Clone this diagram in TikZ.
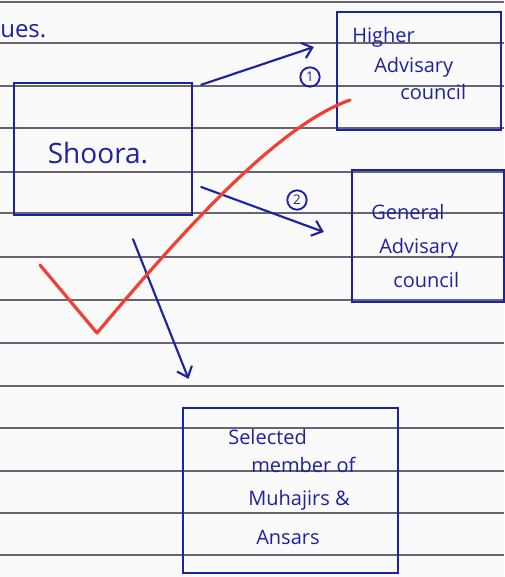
\documentclass[tikz,border=0pt]{standalone}
\usepackage{fontspec}
\setmainfont{Open Sans}
\usetikzlibrary{arrows.meta,calc}
\definecolor{ink}{RGB}{28,34,160}
\definecolor{ruling}{RGB}{105,100,115}
\definecolor{tick}{RGB}{240,64,52}
\definecolor{paper}{RGB}{251,250,251}
\begin{document}
\begin{tikzpicture}[x=0.75pt,y=-0.75pt,
  box/.style={draw=ink,line width=1.8pt,minimum width=#1,inner sep=0pt},
  hand/.style={text=ink,font=\fontsize{15}{18}\selectfont,inner sep=0pt},
  link/.style={draw=ink,line width=1.6pt,line cap=round,-{Straight Barb[length=7pt,width=12pt,line width=1.6pt]}},
  num/.style={circle,draw=ink,line width=1.4pt,minimum size=14.5pt,inner sep=0pt,text=ink,font=\fontsize{10}{11}\selectfont},
  ruled/.style={draw=ruling,line width=0.9pt}]
% sheet and its ruling
\fill[paper] (0,0) rectangle (504,577);
\useasboundingbox (0,0) rectangle (504,577);
\foreach \y in {2,43,86,128,172,213,257,300,343,386,428,471,513,555}
  \draw[ruled] (0,\y) -- (504,\y);
% heading fragment
\node[hand,font=\fontsize{18}{20}\selectfont,anchor=west] (head) at (0,31) {ues.};
% boxes
\node[box=133.5pt,minimum height=99pt] (shoora) at (103,149) {};
\node[box=123pt,minimum height=88.5pt] (higher) at (419,71) {};
\node[box=114pt,minimum height=99pt] (general) at (428,236) {};
\node[box=161.25pt,minimum height=123.75pt] (selected) at (290.5,490.5) {};
% box texts
\node[hand,font=\fontsize{21}{24}\selectfont] (tshoora) at (98,153) {Shoora.};
\node[hand,anchor=west] (th1) at (352,37) {Higher};
\node[hand,anchor=west] (th2) at (374,67) {Advisary};
\node[hand,anchor=west] (th3) at (400,92) {council};
\node[hand,anchor=west] (tg1) at (371,212) {General};
\node[hand,anchor=west] (tg2) at (379,248) {Advisary};
\node[hand,anchor=west] (tg3) at (393,280) {council};
\node[hand,anchor=west] (ts1) at (228,437) {Selected};
\node[hand,anchor=west] (ts2) at (251,465) {member of};
\node[hand,anchor=west] (ts3) at (248,500) {Muhajirs \&};
\node[hand,anchor=west] (ts4) at (256,537) {Ansars};
% arrow ends
\coordinate (s1) at ($(shoora.north east)+(8,3)$);
\coordinate (e1) at ($(higher.west)+(-22,-24)$);
\coordinate (s2) at ($(shoora.east)+(8,38)$);
\coordinate (e2) at ($(general.west)+(-27,-4)$);
\coordinate (s3) at ($(shoora.south)+(30,23)$);
\coordinate (e3) at ($(selected.north)+(-102,-28)$);
\draw[link] (s1) -- (e1);
\draw[link] (s2) -- (e2);
\draw[link] (s3) -- (e3);
% numbering
\node[num] (n1) at (310,77) {1};
\node[num] (n2) at (297,200) {2};
% red check mark
\coordinate (c1) at (40,265);
\coordinate (c2) at (97,333);
\coordinate (c3) at (350,100);
\draw[tick,line width=2.4pt,line cap=round,line join=round]
  (c1) -- (c2) .. controls (190,222) and (280,125) .. (c3);
\end{tikzpicture}
\end{document}
